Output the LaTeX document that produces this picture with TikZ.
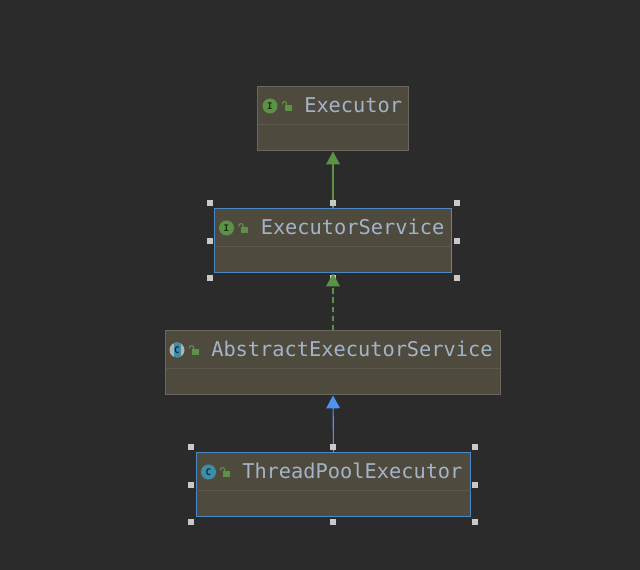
\documentclass[tikz,border=0pt]{standalone}
\usepackage{fontspec}
\setmonofont{DejaVu Sans Mono}
\usetikzlibrary{arrows.meta,calc}
\definecolor{canvasbg}{HTML}{2B2B2B}
\definecolor{boxfill}{HTML}{4F4A3E}
\definecolor{boxline}{HTML}{6A675E}
\definecolor{boxdiv}{HTML}{5C584D}
\definecolor{selline}{HTML}{4A88C7}
\definecolor{titletext}{HTML}{A3B4C8}
\definecolor{implgreen}{HTML}{5C9246}
\definecolor{extblue}{HTML}{4D94EE}
\definecolor{classcyan}{HTML}{3B8FA9}
\definecolor{handlegray}{HTML}{C9C9C9}
\begin{document}
\begin{tikzpicture}[
    x=0.025cm, y=-0.025cm,
    classbox/.style={draw=boxline, fill=boxfill, line width=1pt, inner sep=0pt, outer sep=0pt,
                     minimum height=1.6cm},
    selbox/.style={classbox, draw=selline, line width=1.2pt},
    title/.style={anchor=base west, inner sep=0pt, text=titletext,
                  font=\ttfamily\fontsize{14.45}{16}\selectfont},
    divider/.style={draw=boxdiv, line width=0.6pt},
    iconI/.style={circle, fill=implgreen, inner sep=0pt, minimum size=0.375cm,
                  text=black!70!implgreen, font=\ttfamily\bfseries\fontsize{6.5}{7}\selectfont},
    iconC/.style={iconI, fill=classcyan, text=black!70!classcyan},
    iconA/.style={iconC, fill=gray!60,
                  path picture={\fill[classcyan] ([xshift=0.1cm]path picture bounding box.south west)
                    rectangle ([xshift=-0.1cm]path picture bounding box.north east);
                    \node[text=black!70!classcyan] (lc) at (path picture bounding box.center) {C};}},
    handle/.style={fill=handlegray, inner sep=0pt, minimum size=0.155cm},
    implarr/.style={-{Triangle[length=0.32cm,width=0.34cm]}, draw=implgreen, fill=implgreen,
                    line width=0.8pt, shorten >=0.7pt},
    extarr/.style={implarr, draw=extblue, fill=extblue},
    lockicon/.pic={
      \fill[implgreen] (-2.5,-1) rectangle (4.5,5);
      \draw[implgreen, line width=0.8pt] (-0.5,-1) -- (-0.5,-2.5)
        .. controls (-0.5,-5) and (-4.5,-5) .. (-4.5,-2.5) -- (-4.5,-1.5);
    }
  ]
    % page
    \path[fill=canvasbg, use as bounding box] (0,0) rectangle (640,570);

    % class boxes
    \node[classbox, minimum width=3.77cm]  (executor) at (333,118.5) {};
    \node[selbox,   minimum width=5.92cm]  (service)  at (333,240.5) {};
    \node[classbox, minimum width=8.37cm]  (abstract) at (333,362.5) {};
    \node[selbox,   minimum width=6.85cm]  (pool)     at (333.5,484.5) {};

    \foreach \b in {executor,service,abstract,pool}
      \draw[divider] ($(\b.north west)!0.585!(\b.south west)$) -- ($(\b.north east)!0.585!(\b.south east)$);

    % sits under the arrow head
    \node[handle] (hsb) at (333,278) {};

    % arrows
    \draw[implarr] (service.north) -- (executor.south);
    \draw[implarr, dash pattern=on 4pt off 2.5pt] (abstract.north) -- (service.south);
    \draw[extarr] (pool.north) -- (abstract.south);

    % selection handles
    \foreach \hn/\hx/\hy in {hsnw/210/203, hsn/333/203, hsne/457/203, hsw/210/241, hse/457/241,
                             hssw/210/278, hsse/457/278,
                             hpnw/191/447, hpn/333/447, hpne/475/447, hpw/191/485, hpe/475/485,
                             hpsw/191/522, hps/333/522, hpse/475/522}
      \node[handle] (\hn) at (\hx,\hy) {};

    % icons and titles
    \node[iconI] (iexecutor) at (270,106) {I};
    \pic at (287,106) {lockicon};
    \node[title] (texecutor) at (304,113) {Executor};

    \node[iconI] (iservice) at (226.5,228) {I};
    \pic at (243.5,228) {lockicon};
    \node[title] (tservice) at (260.5,235) {ExecutorService};

    \node[iconA] (iabstract) at (177,350) {};
    \pic at (194,350) {lockicon};
    \node[title] (tabstract) at (211,357) {AbstractExecutorService};

    \node[iconC] (ipool) at (208.5,472) {C};
    \pic at (225,472) {lockicon};
    \node[title] (tpool) at (242,479) {ThreadPoolExecutor};
\end{tikzpicture}
\end{document}
